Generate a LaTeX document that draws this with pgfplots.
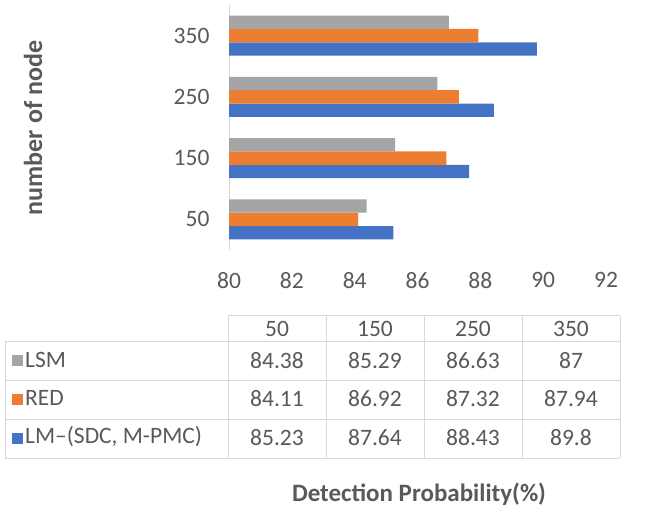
\documentclass[border=0pt]{standalone}
\usepackage{pgfplots}
\pgfplotsset{compat=1.18}
\usepackage{fontspec}
\setmainfont{Carlito}
\definecolor{cblue}{HTML}{4472C4}
\definecolor{corange}{HTML}{ED7D31}
\definecolor{cgray}{HTML}{A5A5A5}
\definecolor{ctext}{HTML}{595959}
\definecolor{cline}{HTML}{D9D9D9}
\begin{document}
\begin{tikzpicture}[x=1pt,y=1pt]
\path[use as bounding box] (0,0) rectangle (649,-508);
\begin{axis}[
  at={(229pt,-250pt)}, anchor=south west,
  scale only axis, width=377pt, height=245pt,
  xmin=80, xmax=92, ymin=-0.5, ymax=3.5,
  xbar, bar width=13.3pt,
  ytick={0,1,2,3}, yticklabels={50,150,250,350},
  xtick={80,82,84,86,88,90,92},
  axis lines*=left,
  x axis line style={draw=none},
  y axis line style={draw=cline, line width=1pt},
  major tick length=0pt,
  tick label style={font=\fontsize{23.5}{26}\selectfont, text=ctext},
  /pgf/number format/assume math mode=true,
  xticklabel style={yshift=-19pt},
  yticklabel style={xshift=-16pt},
  clip=false,
]
\addplot[draw=none, fill=cblue, bar shift=-13.3pt] coordinates {(85.23,0) (87.64,1) (88.43,2) (89.8,3)};
\addplot[draw=none, fill=corange, bar shift=0pt] coordinates {(84.11,0) (86.92,1) (87.32,2) (87.94,3)};
\addplot[draw=none, fill=cgray, bar shift=13.3pt] coordinates {(84.38,0) (85.29,1) (86.63,2) (87,3)};
\end{axis}
% data table
\begin{scope}[line width=1pt, draw=cline]
\draw[cline] (228,-316) -- (620,-316);
\foreach \yy in {342,380,419,458} {\draw[cline] (5,-\yy) -- (620,-\yy);}
\draw[cline] (5,-342) -- (5,-458);
\foreach \xx in {228,326,424,522,620} {\draw[cline] (\xx,-316) -- (\xx,-458);}
\end{scope}
\begin{scope}[every node/.style={font=\fontsize{23.5}{26}\selectfont, text=ctext, inner sep=0pt}]
\node at (277,-329) {50};
\node at (375,-329) {150};
\node at (473,-329) {250};
\node at (571,-329) {350};
\fill[cgray] (12,-355) rectangle (23,-366);
\fill[corange] (12,-394) rectangle (23,-405);
\fill[cblue] (12,-433) rectangle (23,-444);
\node[anchor=west] at (25,-360) {LSM};
\node[anchor=west] at (25,-398) {RED};
\node[anchor=west] at (25,-437) {LM–(SDC, M-PMC)};
\node at (277,-361) {84.38}; \node at (375,-361) {85.29}; \node at (473,-361) {86.63}; \node at (571,-361) {87};
\node at (277,-399) {84.11}; \node at (375,-399) {86.92}; \node at (473,-399) {87.32}; \node at (571,-399) {87.94};
\node at (277,-438) {85.23}; \node at (375,-438) {87.64}; \node at (473,-438) {88.43}; \node at (571,-438) {89.8};
\end{scope}
\node[font=\fontsize{25}{28}\selectfont\bfseries, text=ctext, inner sep=0pt] at (419,-494) {Detection Probability(\%)};
\node[font=\fontsize{26}{29}\selectfont\bfseries, text=ctext, rotate=90] at (33,-128) {number of node};
\end{tikzpicture}
\end{document}
